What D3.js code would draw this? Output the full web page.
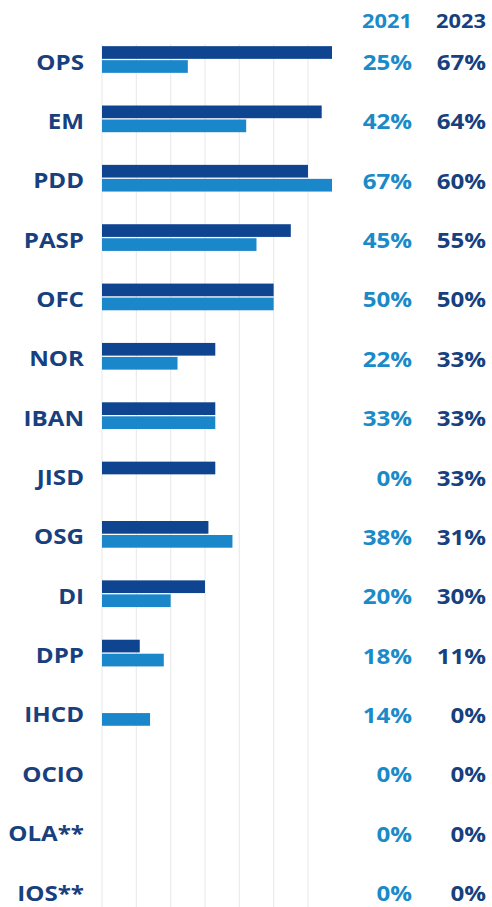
<!DOCTYPE html>
<html>
<head>
<meta charset="utf-8">
<script src="https://cdn.jsdelivr.net/npm/d3@7"></script>
<style>
  body { margin: 0; background: #fff; }
  svg { display: block; font-family: "Open Sans", sans-serif; font-weight: 700; }
</style>
</head>
<body>
<div id="chart"></div>
<script>
// data
const offices = ["OPS", "EM", "PDD", "PASP", "OFC", "NOR", "IBAN", "JISD", "OSG", "DI", "DPP", "IHCD", "OCIO", "OLA**", "IOS**"];
const values2021 = [25, 42, 67, 45, 50, 22, 33, 0, 38, 20, 18, 14, 0, 0, 0];
const values2023 = [67, 64, 60, 55, 50, 33, 33, 33, 31, 30, 11, 0, 0, 0, 0];
const years = ["2021", "2023"];
const gridTicks = [0, 10, 20, 30, 40, 50, 60];

const W = 492, H = 907;
const dark = "#0f4590", light = "#1b87cb";
const darkText = "#183f7e", lightText = "#1b8ac8";
const sx = 1.15; // text is a bit wider than Open Sans

const svg = d3.select("#chart").append("svg").attr("width", W).attr("height", H);

const x = d3.scaleLinear().domain([0, 67]).range([102, 332]);
const y = d3.scalePoint().domain(offices).range([60, 891]);

// grid
svg.append("g").selectAll("line").data(gridTicks).join("line")
  .attr("x1", d => x(d)).attr("x2", d => x(d))
  .attr("y1", 44).attr("y2", H)
  .attr("stroke", "#ebebeb").attr("stroke-width", 1.2);

const barH = 12.7, gap = 1.3;

// 2023 bars (top)
svg.append("g").selectAll("rect").data(offices).join("rect")
  .attr("x", x(0)).attr("y", d => y(d) - barH - gap / 2 - 0.5)
  .attr("width", (d, i) => x(values2023[i]) - x(0)).attr("height", barH)
  .attr("fill", dark);

// 2021 bars (bottom)
svg.append("g").selectAll("rect").data(offices).join("rect")
  .attr("x", x(0)).attr("y", d => y(d) + gap / 2 - 0.5)
  .attr("width", (d, i) => x(values2021[i]) - x(0)).attr("height", barH)
  .attr("fill", light);

// stretched right-anchored text
const label = (g, data, tx, ty, size, fill, txt) =>
  g.selectAll("text").data(data).join("text")
    .attr("transform", (d, i) => `translate(${tx(d, i)},${ty(d, i)}) scale(${sx},1)`)
    .attr("text-anchor", "end").attr("font-size", size).attr("fill", fill)
    .text(txt);

// office labels
label(svg.append("g"), offices, () => 84, d => y(d) + 9.5, 21, darkText, d => d);

// headers
const colX = { "2021": 412, "2023": 486 };
label(svg.append("g"), years, d => colX[d], () => 28, 19,
  d => d === "2021" ? lightText : darkText, d => d);

// value columns
label(svg.append("g"), offices, () => colX["2021"], d => y(d) + 10, 21, lightText,
  (d, i) => values2021[i] + "%");
label(svg.append("g"), offices, () => colX["2023"], d => y(d) + 10, 21, darkText,
  (d, i) => values2023[i] + "%");
</script>
</body>
</html>
